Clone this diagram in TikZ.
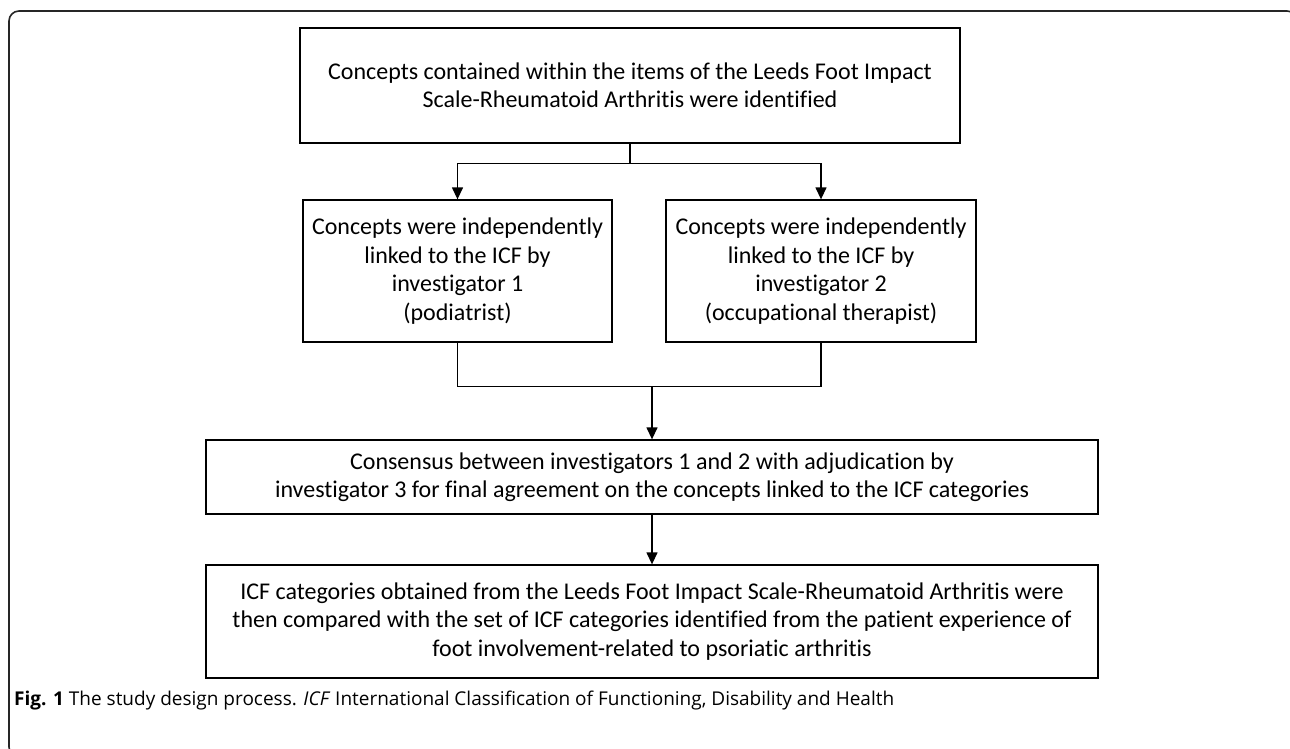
\documentclass[tikz,border=0pt]{standalone}
\usepackage{fontspec}
\setmainfont{Carlito}[Ligatures={NoCommon}]
\newfontfamily\capfont{Open Sans}
\usetikzlibrary{arrows.meta}
\tikzset{
  flowbox/.style={draw=black, line width=1.3pt, align=center, inner sep=0pt,
    font=\fontsize{24}{28.5}\selectfont},
  link/.style={draw=black, line width=1.3pt},
  arr/.style={link, -{Triangle[width=11pt,length=12pt]}},
  frame/.style={draw=black!85, line width=1.6pt, rounded corners=10pt}
}
\begin{document}
\begin{tikzpicture}[x=1pt,y=-1pt]
\useasboundingbox (0,0) rectangle (1290,749);
\begin{scope}
\clip (0,0) rectangle (1290,749);
\draw[frame] (9,11) rectangle (1297,757);
\end{scope}
\node[flowbox, minimum width=660pt, minimum height=115pt] (top) at (630,85.5)
  {Concepts contained within the items of the Leeds Foot Impact\\Scale-Rheumatoid Arthritis were identified};
\node[flowbox, minimum width=309pt, minimum height=142pt] (left) at (457.5,271)
  {Concepts were independently\\linked to the ICF by\\investigator 1\\(podiatrist)};
\node[flowbox, minimum width=310pt, minimum height=142pt] (right) at (821,271)
  {Concepts were independently\\linked to the ICF by\\investigator 2\\(occupational therapist)};
\node[flowbox, minimum width=892pt, minimum height=74pt] (cons) at (652,477)
  {Consensus between investigators 1 and 2 with adjudication by\\investigator 3 for final agreement on the concepts linked to the ICF categories};
\node[flowbox, minimum width=892pt, minimum height=113pt] (final) at (652,621.5)
  {ICF categories obtained from the Leeds Foot Impact Scale-Rheumatoid Arthritis were\\then compared with the set of ICF categories identified from the patient experience of\\foot involvement-related to psoriatic arthritis};
\node[anchor=west, inner sep=0pt, font=\capfont\fontsize{19}{22}\selectfont] (cap) at (14,701)
  {\textbf{Fig. 1} The study design process. \textit{ICF} International Classification of Functioning, Disability and Health};
% split
\draw[link] (top.south) -- ++(0,20) coordinate (split);
\draw[arr] (split) -| (left.north);
\draw[arr] (split) -| (right.north);
% merge
\draw[link] (left.south) -- ++(0,44) coordinate (mergeL) -| (right.south);
\coordinate (merge) at (cons.north |- mergeL);
\draw[arr] (merge) -- (cons.north);
\draw[arr] (cons.south) -- (final.north);
\end{tikzpicture}
\end{document}
